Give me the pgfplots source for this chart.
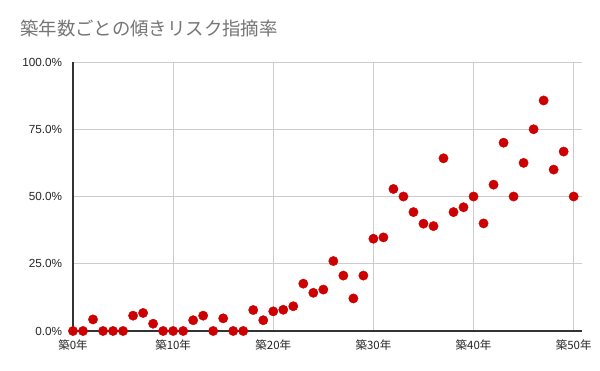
\documentclass[border=0pt]{standalone}
\usepackage{fontspec}
\setmainfont{Liberation Sans}
\newfontfamily\jp{Noto Sans CJK JP}
\usepackage{pgfplots}
\pgfplotsset{compat=1.18}
\definecolor{dotred}{HTML}{CC0000}
\definecolor{gridc}{HTML}{CCCCCC}
\definecolor{titlec}{HTML}{757575}
\definecolor{axisc}{HTML}{333333}
\begin{document}
\begin{tikzpicture}
\path[use as bounding box, fill=white] (0,0) rectangle (450pt,278.25pt);
\node[anchor=west, inner sep=0pt, text=titlec, font=\jp\fontsize{13.8pt}{15pt}\selectfont] at (15pt,256.5pt) {築年数ごとの傾きリスク指摘率};
\begin{axis}[
  at={(54.75pt,30pt)}, anchor=south west,
  scale only axis, width=381.5pt, height=201.75pt,
  xmin=0, xmax=50.8, ymin=0, ymax=100,
  clip=false,
  axis x line=bottom, axis y line=left,
  axis line style={axisc, line width=0.9pt, -},
  x axis line style={-}, y axis line style={-},
  major tick length=0pt,
  xtick={0,10,20,30,40,50},
  xticklabels={築0年,築10年,築20年,築30年,築40年,築50年},
  ytick={0,25,50,75,100},
  yticklabel={\pgfmathprintnumber[fixed,fixed zerofill,precision=1]{\tick}\%},
  /pgf/number format/assume math mode=true,
  xmajorgrids, ymajorgrids,
  major grid style={gridc, line width=0.6pt},
  tick label style={font=\fontsize{8.8pt}{10pt}\selectfont, text=black!85},
  xticklabel style={font=\jp\fontsize{8.6pt}{10pt}\selectfont, inner sep=0pt, yshift=-6.5pt},
  yticklabel style={inner sep=0pt, xshift=-8pt},
]
\addplot[only marks, mark=*, color=dotred, mark size=3.5pt, mark options={solid, line width=0.3pt}] coordinates {
(0,0) (1,0) (2,4.3) (3,0) (4,0) (5,0) (6,5.7) (7,6.7) (8,2.7) (9,0)
(10,0) (11,0) (12,4.0) (13,5.7) (14,0) (15,4.7) (16,0) (17,0) (18,7.8) (19,4.0)
(20,7.3) (21,7.9) (22,9.2) (23,17.6) (24,14.2) (25,15.4) (26,26.0) (27,20.6) (28,12.1) (29,20.6)
(30,34.3) (31,34.8) (32,52.8) (33,50.0) (34,44.2) (35,39.9) (36,39.0) (37,64.2) (38,44.2) (39,46.0)
(40,50.0) (41,40.0) (42,54.4) (43,70.0) (44,50.0) (45,62.5) (46,75.0) (47,85.7) (48,60.0) (49,66.7)
(50,50.0)
};
\end{axis}
\end{tikzpicture}
\end{document}
